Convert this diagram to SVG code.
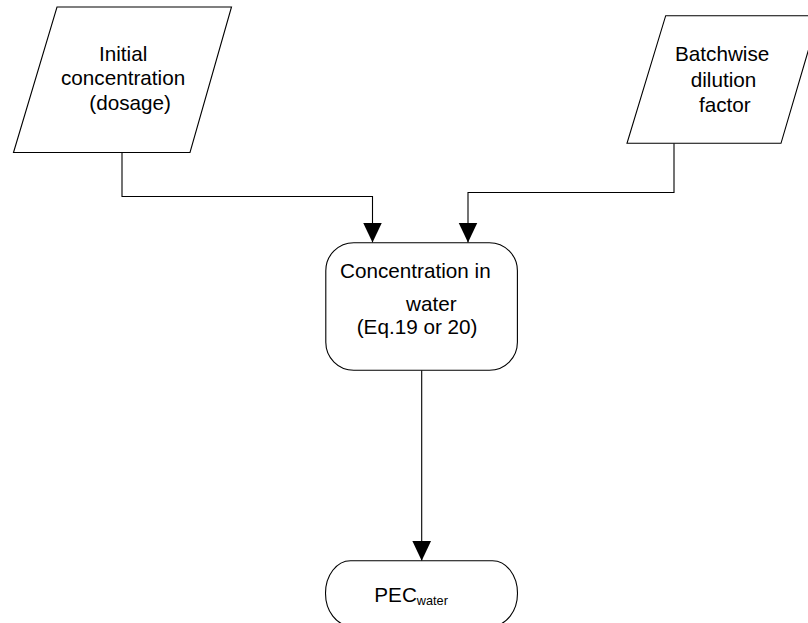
<svg xmlns="http://www.w3.org/2000/svg" width="808" height="623" viewBox="0 0 808 623">
<style>
.shape{fill:#ffffff;stroke:#000000;stroke-width:1.1}
.conn{fill:none;stroke:#000000;stroke-width:1.1}
.t{font-family:"Liberation Sans",Arial,sans-serif;font-size:20.7px;fill:#000000}
.sub{font-size:12.7px}
</style>
<defs>
<marker id="arrow" markerUnits="userSpaceOnUse" markerWidth="20" markerHeight="20" viewBox="0 0 19 18" refX="19" refY="9" orient="auto">
<path d="M0,0 L19,9 L0,18 Z" fill="#000000"/>
</marker>
</defs>
<rect width="808" height="623" fill="#ffffff"/>
<g id="connectors">
<path class="conn" d="M122,152.5 V196.5 H372.5 V242.5" marker-end="url(#arrow)"/>
<path class="conn" d="M674,143.3 V192.5 H468 V242.5" marker-end="url(#arrow)"/>
<path class="conn" d="M421.7,370.3 V560.7" marker-end="url(#arrow)"/>
</g>
<g id="initial-concentration">
<polygon class="shape" points="57,7 231.5,7 190,152.5 13.5,152.5"/>
<text class="t" x="99" y="61">Initial</text>
<text class="t" x="61" y="85">concentration</text>
<text class="t" x="89.3" y="110">(dosage)</text>
</g>
<g id="batchwise-dilution">
<polygon class="shape" points="665.7,15.7 818.5,15.7 781,143.3 627,143.3"/>
<text class="t" x="675" y="61">Batchwise</text>
<text class="t" x="690.7" y="87">dilution</text>
<text class="t" x="699" y="111.5">factor</text>
</g>
<g id="concentration-in-water">
<rect class="shape" x="325.8" y="242.7" width="191.6" height="127.6" rx="28" ry="28"/>
<text class="t" x="340" y="277.7">Concentration in</text>
<text class="t" x="406" y="311">water</text>
<text class="t" x="356.7" y="334">(Eq.19 or 20)</text>
</g>
<g id="pec-water">
<rect class="shape" x="325.5" y="560.7" width="192" height="65" rx="25" ry="32.5"/>
<text class="t" x="374.3" y="601.7">PEC<tspan class="sub" dy="3.3">water</tspan></text>
</g>
</svg>
